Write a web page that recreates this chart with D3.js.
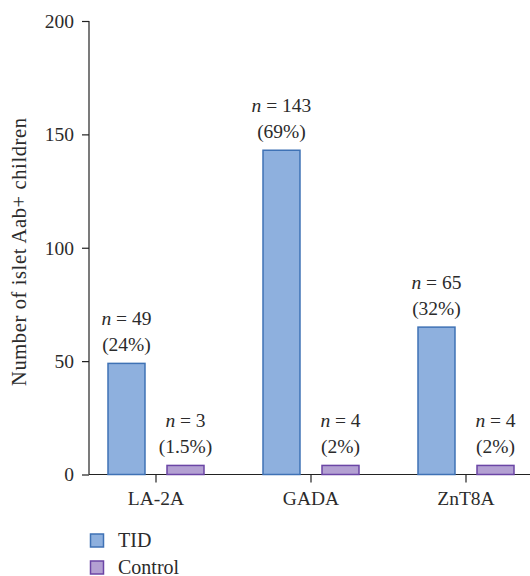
<!DOCTYPE html>
<html>
<head>
<meta charset="utf-8">
<script src="https://cdn.jsdelivr.net/npm/d3@7"></script>
<style>
  body { margin: 0; background: #fff; }
  svg { display: block; }
  text { font-family: "Liberation Serif", "DejaVu Serif", serif; fill: #2b2b2b; }
</style>
</head>
<body>
<svg id="chart" width="530" height="576"></svg>
<script>
const categories = ["LA-2A", "GADA", "ZnT8A"];
const seriesNames = ["TID", "Control"];
const tidValues = [49, 143, 65];
const controlValues = [4, 4, 4];
const tidLabels = [["n = 49", "(24%)"], ["n = 143", "(69%)"], ["n = 65", "(32%)"]];
const controlLabels = [["n = 3", "(1.5%)"], ["n = 4", "(2%)"], ["n = 4", "(2%)"]];
const yTicks = [0, 50, 100, 150, 200];

const colors = {
  TID: { fill: "#8eb0de", stroke: "#3f72b5" },
  Control: { fill: "#b3a0d2", stroke: "#6b45a5" }
};

const svg = d3.select("#chart");
const axisX = 89;
const y = d3.scaleLinear().domain([0, 200]).range([474.5, 21]);
const x = d3.scaleBand().domain(categories).range([78.5, 543.5]).padding(0);
const sub = d3.scaleBand().domain(seriesNames).range([-48, 48]).paddingInner(0.373).paddingOuter(0);

const fontSize = 19.5;
const ff = "'Liberation Serif', 'DejaVu Serif', serif";

// y axis
const yAxisG = svg.append("g").attr("transform", `translate(${axisX},0)`)
  .call(d3.axisLeft(y).tickValues(yTicks).tickSize(7).tickPadding(8).tickFormat(d3.format("d")));
yAxisG.select(".domain").attr("stroke", "#222").attr("stroke-width", 1.2).attr("d", `M0,${y(200)}V${y(0)}`);
yAxisG.selectAll(".tick line").attr("stroke", "#222").attr("stroke-width", 1.2);
yAxisG.selectAll(".tick text").style("font-size", fontSize + "px")
  .style("font-family", ff).attr("fill", "#2b2b2b");

// x axis
const xAxisG = svg.append("g").attr("transform", `translate(0,${y(0)})`)
  .call(d3.axisBottom(x).tickSize(8).tickPadding(9));
xAxisG.select(".domain").attr("stroke", "#222").attr("stroke-width", 1.2).attr("d", `M${axisX},0H530`);
xAxisG.selectAll(".tick line").attr("stroke", "#222").attr("stroke-width", 1.2);
xAxisG.selectAll(".tick text").style("font-size", fontSize + "px")
  .style("font-family", ff).attr("fill", "#2b2b2b");

// y title
svg.append("text")
  .attr("transform", `translate(26,252) rotate(-90)`)
  .attr("text-anchor", "middle")
  .style("font-size", "20.5px")
  .attr("textLength", 268)
  .text("Number of islet Aab+ children");

// bars
const series = [
  { name: "TID", values: tidValues, labels: tidLabels },
  { name: "Control", values: controlValues, labels: controlLabels }
];

series.forEach(s => {
  const g = svg.append("g");
  categories.forEach((c, i) => {
    const cx = x(c) + x.bandwidth() / 2;
    const bx = cx + sub(s.name);
    const bw = sub.bandwidth();
    g.append("rect")
      .attr("x", bx)
      .attr("y", y(s.values[i]))
      .attr("width", bw)
      .attr("height", y(0) - y(s.values[i]))
      .attr("fill", colors[s.name].fill)
      .attr("stroke", colors[s.name].stroke)
      .attr("stroke-width", 1.5);
    const top = y(s.values[i]);
    const lx = bx + bw / 2;
    const t1 = g.append("text").attr("x", lx).attr("y", top - 38)
      .attr("text-anchor", "middle").style("font-size", fontSize + "px");
    const parts = s.labels[i][0].split(" ");
    t1.append("tspan").style("font-style", "italic").text(parts[0]);
    t1.append("tspan").text(" " + parts.slice(1).join(" "));
    g.append("text").attr("x", lx).attr("y", top - 12)
      .attr("text-anchor", "middle").style("font-size", fontSize + "px")
      .text(s.labels[i][1]);
  });
});

// legend
const legend = svg.append("g");
seriesNames.forEach((n, i) => {
  const ly = 534 + i * 27;
  legend.append("rect").attr("x", 90.5).attr("y", ly).attr("width", 13).attr("height", 13)
    .attr("fill", colors[n].fill).attr("stroke", colors[n].stroke).attr("stroke-width", 1.5);
  legend.append("text").attr("x", 118).attr("y", ly + 13)
    .style("font-size", "20px").text(n);
});
</script>
</body>
</html>
